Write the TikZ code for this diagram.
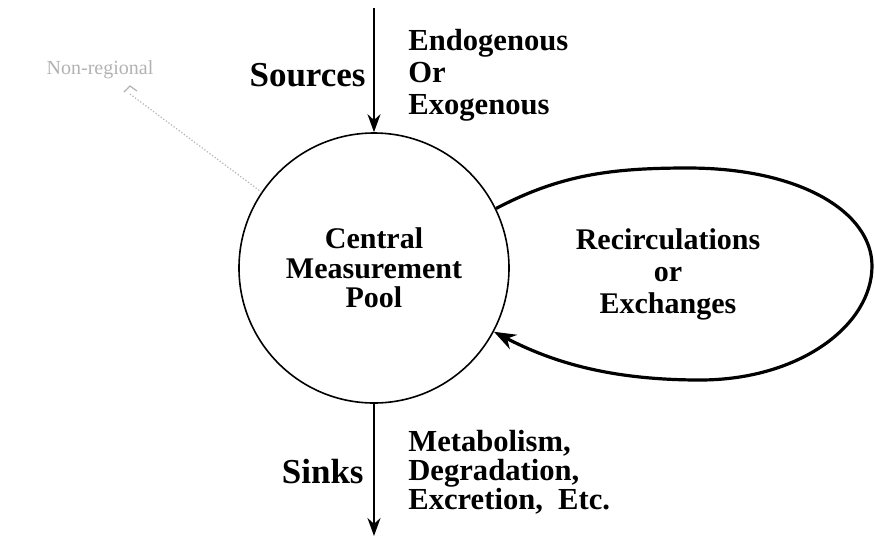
\documentclass[tikz,border=0pt]{standalone}
\usepackage{fontspec}
\setmainfont{Liberation Serif}
\usetikzlibrary{arrows.meta}

\begin{document}
\begin{tikzpicture}[x=0.5pt,y=-0.5pt,
 txt/.style={font=\bfseries\fontsize{15}{14.8}\selectfont,inner sep=0pt},
 note/.style={txt,align=left,anchor=west},
 side/.style={font=\bfseries\fontsize{17.5}{19}\selectfont,inner sep=0pt,anchor=east},
 flow/.style={line width=1.1pt,-{Stealth[length=9pt,width=6.5pt]}},
 faint/.style={black!30}]

\def\r {135pt} \def\tx {408}
\useasboundingbox (0,0) rectangle (875,538);

% pool
\node[txt,circle,draw,line width=0.8pt,minimum size=\r,align=center]
 (pool) at (374,268) {Central\\Measurement\\Pool};

% in and out
\coordinate (in) at (374,8);
\coordinate (out) at (374,536);
\draw[flow] (in) -- (pool.north);
\draw[flow] (pool.south) -- (out);

\node[side] (src) at (366,75) {Sources};
\node[note,font=\bfseries\fontsize{15.3}{16}\selectfont] (srcnote) at (\tx,75)
 {Endogenous\\Or\\Exogenous};
\node[side] (sink) at (364,472) {Sinks};
\node[note,font=\bfseries\fontsize{15.3}{14.5}\selectfont] (sinknote) at (\tx,472)
 {Metabolism,\\Degradation,\\Excretion,~~Etc.};

% loop
\node[txt,align=center,font=\bfseries\fontsize{15}{16}\selectfont]
 (recirc) at (668,274) {Recirculations\\or\\Exchanges};
\draw[line width=1.6pt,-{Stealth[length=11pt,width=8pt]}]
 (pool.26) .. controls (560,175) and (610,168) .. (688,168)
 .. controls (800,168) and (872,212) .. (872,266)
 .. controls (872,325) and (800,380) .. (700,380)
 .. controls (610,380) and (552,362) .. (pool.-28);

% faint margin note
\node[faint,font=\fontsize{10}{12}\selectfont] (margin) at (100,70) {Non-regional};
\coordinate (hook) at (130,86);
\draw[faint,line width=0.6pt] (hook) ++(-6,6) -- (hook) -- ++(7,5);
\draw[faint,densely dotted,line width=0.6pt] (hook) ++(0,8) -- (pool.146);

\end{tikzpicture}
\end{document}
